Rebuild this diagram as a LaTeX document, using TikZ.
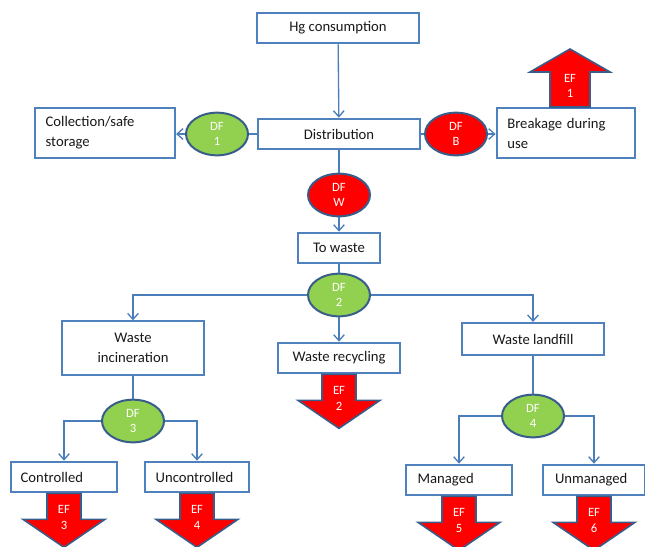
\documentclass[tikz,border=0pt]{standalone}
\usepackage{fontspec}
\setmainfont{Carlito}
\usetikzlibrary{shapes.geometric, arrows.meta}
\definecolor{boxblue}{HTML}{4F81BD}
\definecolor{linkblue}{HTML}{4A7EBB}
\definecolor{ringblue}{HTML}{385D8A}
\definecolor{dfgreen}{HTML}{92D050}
\definecolor{efred}{HTML}{FF0000}

\begin{document}
\begin{tikzpicture}[x=0.75pt, y=-0.75pt,
  box/.style={draw=boxblue, line width=1.5pt, fill=white, text=black!90,
    font=\fontsize{11}{15}\selectfont, inner sep=0pt, minimum height=23pt, align=center},
  lbox/.style={box, align=left, inner xsep=8pt},
  df/.style={ellipse, draw=ringblue, line width=1.5pt, fill=dfgreen, text=white,
    font=\fontsize{9.5}{11.5}\selectfont, minimum width=46.5pt, minimum height=32pt,
    inner sep=0pt, align=center},
  dfred/.style={df, fill=efred},
  link/.style={draw=linkblue, line width=1pt},
  arr/.style={link, -{Straight Barb[length=4.5pt, width=8pt]}},
  ef/.style={fill=efred, draw=ringblue, line width=1.2pt, line join=miter},
  eftext/.style={text=white, font=\fontsize{9.5}{11.5}\selectfont, align=center, inner sep=0pt}]
  \useasboundingbox (0,0) rectangle (645,546);

  \node[box, minimum width=122pt] (hg) at (338,28) {Hg consumption};
  \node[box, minimum width=122pt] (dist) at (339,134) {Distribution};
  \node[lbox, text width=89pt, minimum height=38pt] (coll) at (105,133) {Collection/safe\\storage};
  \node[df] (df1) at (217,134) {DF\\1};
  \node[dfred] (dfb) at (456,134) {DF\\B};
  \node[lbox, text width=88pt, minimum height=37.5pt] (brk) at (566,133) {Breakage during\\use};
  \node[dfred] (dfw) at (339,195) {DF\\W};
  \node[box, minimum width=62pt] (tw) at (339,248) {To waste};
  \node[df] (df2) at (339,295) {DF\\2};
  \node[box, minimum width=106pt, minimum height=40pt] (inc) at (133,348) {Waste\\incineration};
  \node[box, minimum width=92pt] (rec) at (339,358) {Waste recycling};
  \node[box, minimum width=106pt, minimum height=24pt] (lf) at (533,339) {Waste landfill};
  \node[df] (df3) at (133,421) {DF\\3};
  \node[df] (df4) at (533,416) {DF\\4};
  \node[lbox, inner xsep=7.5pt, text width=65pt] (ctrl) at (64,477) {Controlled};
  \node[lbox, text width=62pt] (unctrl) at (197,477) {Uncontrolled};
  \node[lbox, inner xsep=9pt, text width=62pt] (mng) at (459,480) {Managed};
  \node[lbox, inner xsep=9pt, text width=58.5pt] (unmng) at (594,480) {Unmanaged};

  \draw[arr] (hg) -- (dist);
  \draw[link] (dist) -- (df1);
  \draw[arr] (df1.west) -- (df1.west -| coll.east);
  \draw[link] (dist) -- (dfb);
  \draw[arr] (dfb.east) -- (dfb.east -| brk.west);
  \draw[link] (dist) -- (dfw);
  \draw[arr] (dfw) -- (tw);
  \draw[link] (tw) -- (df2);
  \draw[arr] (df2) -- (rec);
  \draw[arr] (df2.west) -| (inc.north);
  \draw[arr] (df2.east) -| (lf.north);
  \draw[link] (inc) -- (df3);
  \draw[arr] (df3.west) -| (ctrl.north);
  \draw[arr] (df3.east) -| (unctrl.north);
  \draw[link] (lf) -- (df4);
  \draw[arr] (df4.west) -| (mng.north);
  \draw[arr] (df4.east) -| (unmng.north);

  \draw[ef, shift={([xshift=3pt]brk.north)}] (-20,0) -- (20,0) -- (20,-35) -- (40,-35)
    -- (0,-58) -- (-40,-35) -- (-20,-35) -- cycle;
  \node[eftext] (ef1) at ([xshift=3pt, yshift=16pt]brk.north) {EF\\1};
  \foreach \b/\n in {rec/2, ctrl/3, unctrl/4, mng/5, unmng/6} {
    \draw[ef, shift={(\b.south)}] (-17,0) -- (17,0) -- (17,26) -- (41,26) -- (0,54)
      -- (-41,26) -- (-17,26) -- cycle;
    \node[eftext] (ef\n) at ([yshift=-18pt]\b.south) {EF\\\n};
  }
\end{tikzpicture}
\end{document}
